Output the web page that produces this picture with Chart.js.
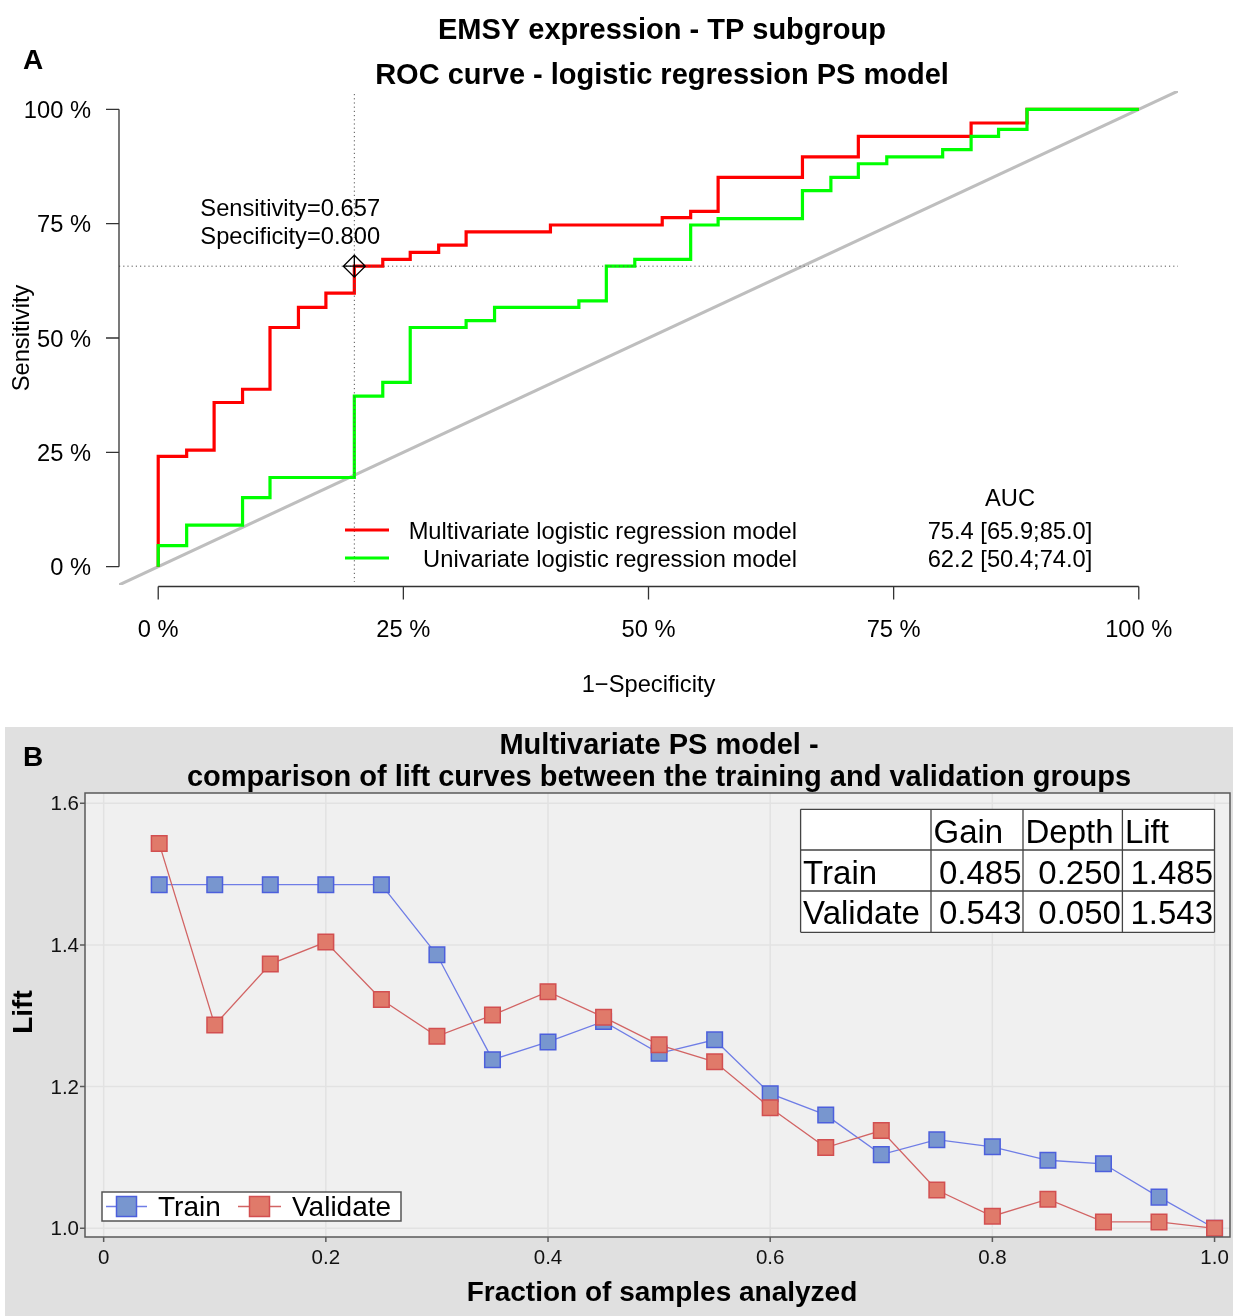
<!DOCTYPE html>
<html><head><meta charset="utf-8">
<script src="https://cdn.jsdelivr.net/npm/chart.js@4/dist/chart.umd.min.js"></script>
<style>
html,body{margin:0;padding:0;background:#fff;}
#wrap{position:relative;width:1233px;height:1316px;overflow:hidden;}
#cA{position:absolute;left:0;top:0;}
#cB{position:absolute;left:0;top:710px;}
</style></head><body>
<div id="wrap">
<canvas id="cA" width="1233" height="710"></canvas>
<canvas id="cB" width="1233" height="606"></canvas>
</div>
<script>
// ---------- Panel A data ----------
const rocTicks = [0, 25, 50, 75, 100];
const rocTickLabels = ['0 %', '25 %', '50 %', '75 %', '100 %'];
const multiFpr = [0, 0, 2.9, 5.7, 8.6, 11.4, 14.3, 17.1, 20.0, 22.9, 25.7, 28.6, 31.4, 40.0, 51.4, 54.3, 57.1, 65.7, 71.4, 82.9, 88.6, 100];
const multiTpr = [0, 24.1, 25.5, 35.9, 38.8, 52.3, 56.7, 59.8, 65.7, 67.2, 68.7, 70.3, 73.2, 74.7, 76.3, 77.7, 85.1, 89.6, 94.1, 97.0, 100, 100];
const uniFpr = [0, 0, 2.9, 8.6, 11.4, 20.0, 22.9, 25.7, 31.4, 34.3, 42.9, 45.7, 48.6, 54.3, 57.1, 65.7, 68.6, 71.4, 74.3, 80.0, 82.9, 85.7, 88.6, 100];
const uniTpr = [0, 4.6, 9.1, 15.1, 19.5, 37.3, 40.3, 52.3, 53.8, 56.7, 58.1, 65.7, 67.2, 74.7, 76.1, 82.2, 85.1, 88.1, 89.6, 91.2, 94.1, 95.6, 100, 100];
const diagonalEnds = [-4, 104];
const cutoffFpr = 20.0;
const cutoffSens = 65.7;
const cutoffText = ['Sensitivity=0.657', 'Specificity=0.800'];
const modelNames = ['Multivariate logistic regression model', 'Univariate logistic regression model'];
const aucTexts = ['75.4 [65.9;85.0]', '62.2 [50.4;74.0]'];
const titleA = ['EMSY expression - TP subgroup', 'ROC curve - logistic regression PS model'];

// ---------- Panel B data ----------
const fraction = [0.05, 0.10, 0.15, 0.20, 0.25, 0.30, 0.35, 0.40, 0.45, 0.50, 0.55, 0.60, 0.65, 0.70, 0.75, 0.80, 0.85, 0.90, 0.95, 1.00];
const liftTrain = [1.485, 1.485, 1.485, 1.485, 1.485, 1.386, 1.238, 1.263, 1.292, 1.247, 1.266, 1.190, 1.160, 1.104, 1.125, 1.115, 1.096, 1.091, 1.044, 1.000];
const liftValidate = [1.543, 1.287, 1.373, 1.404, 1.323, 1.271, 1.301, 1.334, 1.298, 1.259, 1.235, 1.170, 1.114, 1.138, 1.054, 1.017, 1.041, 1.009, 1.009, 1.000];
const liftXTicks = [0, 0.2, 0.4, 0.6, 0.8, 1.0];
const liftXLabels = ['0', '0.2', '0.4', '0.6', '0.8', '1.0'];
const liftYTicks = [1.0, 1.2, 1.4, 1.6];
const liftYLabels = ['1.0', '1.2', '1.4', '1.6'];
const tableHeader = ['', 'Gain', 'Depth', 'Lift'];
const tableTrain = ['Train', '0.485', '0.250', '1.485'];
const tableValidate = ['Validate', '0.543', '0.050', '1.543'];
const titleB = ['Multivariate PS model -', 'comparison of lift curves between the training and validation groups'];

const FONT = '"Liberation Sans", Arial, sans-serif';

function stepPath(fpr, tpr) {
  const pts = [{x: fpr[0], y: tpr[0]}];
  for (let i = 1; i < fpr.length; i++) {
    pts.push({x: fpr[i], y: tpr[i - 1]});
    pts.push({x: fpr[i], y: tpr[i]});
  }
  return pts;
}

// ---------- Panel A ----------
const pA = {
  id: 'pA',
  beforeDraw(c) {
    const ctx = c.ctx;
    ctx.save(); ctx.fillStyle = '#fff'; ctx.fillRect(0, 0, c.width, c.height); ctx.restore();
  },
  afterDatasetsDraw(c) {
    const ctx = c.ctx, x = c.scales.x, y = c.scales.y, a = c.chartArea;
    ctx.save();
    const cx = x.getPixelForValue(cutoffFpr), cy = y.getPixelForValue(cutoffSens);
    ctx.strokeStyle = '#555'; ctx.lineWidth = 1; ctx.setLineDash([1.2, 3]);
    ctx.beginPath();
    ctx.moveTo(cx, a.top + 3); ctx.lineTo(cx, a.bottom - 3);
    ctx.moveTo(a.left, cy); ctx.lineTo(a.right, cy);
    ctx.stroke();
    ctx.setLineDash([]);
    const r = 11;
    ctx.strokeStyle = '#000'; ctx.lineWidth = 1.3;
    ctx.beginPath();
    ctx.moveTo(cx, cy - r); ctx.lineTo(cx + r, cy); ctx.lineTo(cx, cy + r); ctx.lineTo(cx - r, cy); ctx.closePath();
    ctx.moveTo(cx - r, cy); ctx.lineTo(cx + r, cy);
    ctx.moveTo(cx, cy - r); ctx.lineTo(cx, cy + r);
    ctx.stroke();
    ctx.fillStyle = '#000'; ctx.font = '23.7px ' + FONT; ctx.textAlign = 'left'; ctx.textBaseline = 'middle';
    ctx.fillText(cutoffText[0], cx - 154, cy - 57);
    ctx.fillText(cutoffText[1], cx - 154, cy - 29);
    ctx.restore();
  },
  afterDraw(c) {
    const ctx = c.ctx, x = c.scales.x, y = c.scales.y, a = c.chartArea;
    ctx.save();
    ctx.strokeStyle = '#333'; ctx.lineWidth = 1.3; ctx.fillStyle = '#000';
    const y0 = y.getPixelForValue(rocTicks[0]), y1 = y.getPixelForValue(rocTicks[rocTicks.length - 1]);
    ctx.beginPath(); ctx.moveTo(a.left, y0); ctx.lineTo(a.left, y1);
    rocTicks.forEach(v => { const p = y.getPixelForValue(v); ctx.moveTo(a.left, p); ctx.lineTo(a.left - 13, p); });
    const axY = a.bottom + 1.5;
    const x0 = x.getPixelForValue(rocTicks[0]), x1 = x.getPixelForValue(rocTicks[rocTicks.length - 1]);
    ctx.moveTo(x0, axY); ctx.lineTo(x1, axY);
    rocTicks.forEach(v => { const p = x.getPixelForValue(v); ctx.moveTo(p, axY); ctx.lineTo(p, axY + 13); });
    ctx.stroke();
    ctx.font = '23.7px ' + FONT; ctx.textBaseline = 'middle';
    ctx.textAlign = 'right';
    rocTicks.forEach((v, i) => ctx.fillText(rocTickLabels[i], 91, y.getPixelForValue(v) + 2));
    ctx.textAlign = 'center';
    rocTicks.forEach((v, i) => ctx.fillText(rocTickLabels[i], x.getPixelForValue(v), 630));
    ctx.fillText('1\u2212Specificity', (x0 + x1) / 2, 685);
    ctx.save(); ctx.translate(22, (a.top + a.bottom) / 2); ctx.rotate(-Math.PI / 2);
    ctx.fillText('Sensitivity', 0, 0); ctx.restore();
    const legY = [532, 560], legCol = ['#ff0000', '#00ff00'];
    ctx.lineWidth = 3.2;
    legY.forEach((ly, i) => {
      ctx.strokeStyle = legCol[i]; ctx.beginPath(); ctx.moveTo(345, ly - 2); ctx.lineTo(389, ly - 2); ctx.stroke();
      ctx.textAlign = 'right'; ctx.fillText(modelNames[i], 797, ly);
      ctx.textAlign = 'center'; ctx.fillText(aucTexts[i], 1010, ly);
    });
    ctx.textAlign = 'center'; ctx.fillText('AUC', 1010, 499);
    ctx.font = 'bold 29px ' + FONT;
    ctx.fillText(titleA[0], 662, 31);
    ctx.fillText(titleA[1], 662, 76);
    ctx.font = 'bold 28px ' + FONT;
    ctx.fillText('A', 33, 61);
    ctx.restore();
  }
};

new Chart(document.getElementById('cA'), {
  type: 'scatter',
  data: {
    datasets: [
      {data: stepPath(uniFpr, uniTpr), showLine: true, borderColor: '#00ff00', borderWidth: 3.2, pointRadius: 0, borderJoinStyle: 'miter'},
      {data: stepPath(multiFpr, multiTpr), showLine: true, borderColor: '#ff0000', borderWidth: 3.2, pointRadius: 0, borderJoinStyle: 'miter'},
      {data: diagonalEnds.map(v => ({x: v, y: v})), showLine: true, borderColor: '#bebebe', borderWidth: 3, pointRadius: 0}
    ]
  },
  options: {
    responsive: false, animation: false, events: [],
    layout: {autoPadding: false, padding: {left: 119, right: 55, top: 91, bottom: 125}},
    scales: {
      x: {type: 'linear', min: -4, max: 104, display: false},
      y: {type: 'linear', min: -4, max: 104, display: false}
    },
    plugins: {legend: {display: false}, tooltip: {enabled: false}, title: {display: false}}
  },
  plugins: [pA]
});

// ---------- Panel B ----------
const OY = 710;
const blueFill = '#7896cf', blueEdge = '#4c5fdc', blueLine = '#6f7de6';
const redFill = '#e07a6a', redEdge = '#d24f50', redLine = '#d26464';

const pB = {
  id: 'pB',
  beforeDraw(c) {
    const ctx = c.ctx, a = c.chartArea, x = c.scales.x, y = c.scales.y;
    ctx.save();
    ctx.fillStyle = '#fff'; ctx.fillRect(0, 0, c.width, c.height);
    ctx.fillStyle = '#e0e0e0'; ctx.fillRect(5, 727 - OY, c.width - 5, c.height);
    ctx.fillStyle = '#f0f0f0'; ctx.fillRect(a.left, a.top, a.right - a.left, a.bottom - a.top);
    ctx.strokeStyle = '#e2e2e2'; ctx.lineWidth = 1.5;
    ctx.beginPath();
    liftXTicks.forEach(v => { const p = x.getPixelForValue(v); ctx.moveTo(p, a.top); ctx.lineTo(p, a.bottom); });
    liftYTicks.forEach(v => { const p = y.getPixelForValue(v); ctx.moveTo(a.left, p); ctx.lineTo(a.right, p); });
    ctx.stroke();
    ctx.restore();
  },
  afterDraw(c) {
    const ctx = c.ctx, a = c.chartArea, x = c.scales.x, y = c.scales.y;
    ctx.save();
    ctx.strokeStyle = '#5a5a5a'; ctx.lineWidth = 1.5;
    ctx.strokeRect(a.left, a.top, a.right - a.left, a.bottom - a.top);
    ctx.beginPath();
    liftYTicks.forEach(v => { const p = y.getPixelForValue(v); ctx.moveTo(a.left, p); ctx.lineTo(a.left - 5, p); });
    liftXTicks.forEach(v => { const p = x.getPixelForValue(v); ctx.moveTo(p, a.bottom); ctx.lineTo(p, a.bottom + 5); });
    ctx.stroke();
    ctx.fillStyle = '#111'; ctx.font = '20.5px ' + FONT; ctx.textBaseline = 'middle';
    ctx.textAlign = 'right';
    liftYTicks.forEach((v, i) => ctx.fillText(liftYLabels[i], 79, y.getPixelForValue(v) + 1.5));
    ctx.textAlign = 'center';
    liftXTicks.forEach((v, i) => ctx.fillText(liftXLabels[i], x.getPixelForValue(v), 1258.5 - OY));
    ctx.fillStyle = '#000';
    ctx.font = 'bold 28px ' + FONT;
    ctx.fillText('Fraction of samples analyzed', 662, 1293 - OY);
    ctx.save(); ctx.translate(24, (a.top + a.bottom) / 2 - 3); ctx.rotate(-Math.PI / 2);
    ctx.fillText('Lift', 0, 0); ctx.restore();
    ctx.font = 'bold 29px ' + FONT;
    ctx.fillText(titleB[0], 659, 746 - OY);
    ctx.fillText(titleB[1], 659, 778 - OY);
    ctx.font = 'bold 28px ' + FONT;
    ctx.fillText('B', 33, 758 - OY);

    const cols = [800.6, 931, 1023, 1122.4, 1214.5];
    const rows = [809.3 - OY, 850 - OY, 891 - OY, 932.3 - OY];
    ctx.fillStyle = '#fff';
    ctx.fillRect(cols[0], rows[0], cols[4] - cols[0], rows[3] - rows[0]);
    ctx.strokeStyle = '#444'; ctx.lineWidth = 1.3;
    ctx.beginPath();
    rows.forEach(r => { ctx.moveTo(cols[0], r); ctx.lineTo(cols[4], r); });
    cols.forEach(cc => { ctx.moveTo(cc, rows[0]); ctx.lineTo(cc, rows[3]); });
    ctx.stroke();
    ctx.fillStyle = '#000'; ctx.font = '33px ' + FONT; ctx.textBaseline = 'alphabetic';
    const baselines = [842.7 - OY, 883.5 - OY, 924.2 - OY];
    const tRows = [tableHeader, tableTrain, tableValidate];
    tRows.forEach((row, ri) => {
      row.forEach((txt, ci) => {
        if (!txt) return;
        if (ri === 0 || ci === 0) { ctx.textAlign = 'left'; ctx.fillText(txt, cols[ci] + 2.5, baselines[ri]); }
        else { ctx.textAlign = 'right'; ctx.fillText(txt, cols[ci + 1] - 1.5, baselines[ri]); }
      });
    });

    const lx0 = 102, ly0 = 1192 - OY, lw = 299, lh = 29;
    ctx.fillStyle = '#fff'; ctx.fillRect(lx0, ly0, lw, lh);
    ctx.strokeStyle = '#555'; ctx.lineWidth = 1.5; ctx.strokeRect(lx0, ly0, lw, lh);
    const cyL = ly0 + lh / 2;
    const items = [
      {label: 'Train', line: blueLine, fill: blueFill, edge: blueEdge, x0: 106, x1: 147, tx: 158},
      {label: 'Validate', line: redLine, fill: redFill, edge: redEdge, x0: 238, x1: 281, tx: 292}
    ];
    items.forEach(it => {
      ctx.strokeStyle = it.line; ctx.lineWidth = 1.3;
      ctx.beginPath(); ctx.moveTo(it.x0, cyL); ctx.lineTo(it.x1, cyL); ctx.stroke();
      const mx = (it.x0 + it.x1) / 2, s = 20;
      ctx.fillStyle = it.fill; ctx.fillRect(mx - s / 2, cyL - s / 2, s, s);
      ctx.strokeStyle = it.edge; ctx.lineWidth = 1.5; ctx.strokeRect(mx - s / 2, cyL - s / 2, s, s);
      ctx.fillStyle = '#000'; ctx.font = '28px ' + FONT; ctx.textAlign = 'left'; ctx.textBaseline = 'middle';
      ctx.fillText(it.label, it.tx, cyL + 2);
    });
    ctx.restore();
  }
};

new Chart(document.getElementById('cB'), {
  type: 'scatter',
  data: {
    datasets: [
      {label: 'Validate', data: fraction.map((f, i) => ({x: f, y: liftValidate[i]})), showLine: true,
        borderColor: redLine, borderWidth: 1.3, pointStyle: 'rect', pointRadius: 11,
        pointBackgroundColor: redFill, pointBorderColor: redEdge, pointBorderWidth: 1.5},
      {label: 'Train', data: fraction.map((f, i) => ({x: f, y: liftTrain[i]})), showLine: true,
        borderColor: blueLine, borderWidth: 1.3, pointStyle: 'rect', pointRadius: 11,
        pointBackgroundColor: blueFill, pointBorderColor: blueEdge, pointBorderWidth: 1.5}
    ]
  },
  options: {
    responsive: false, animation: false, events: [],
    layout: {autoPadding: false, padding: {left: 85, right: 3, top: 83, bottom: 79}},
    scales: {
      x: {type: 'linear', min: -0.0168, max: 1.0139, display: false},
      y: {type: 'linear', min: 0.9877, max: 1.6144, display: false}
    },
    plugins: {legend: {display: false}, tooltip: {enabled: false}, title: {display: false}}
  },
  plugins: [pB]
});
</script>
</body></html>
